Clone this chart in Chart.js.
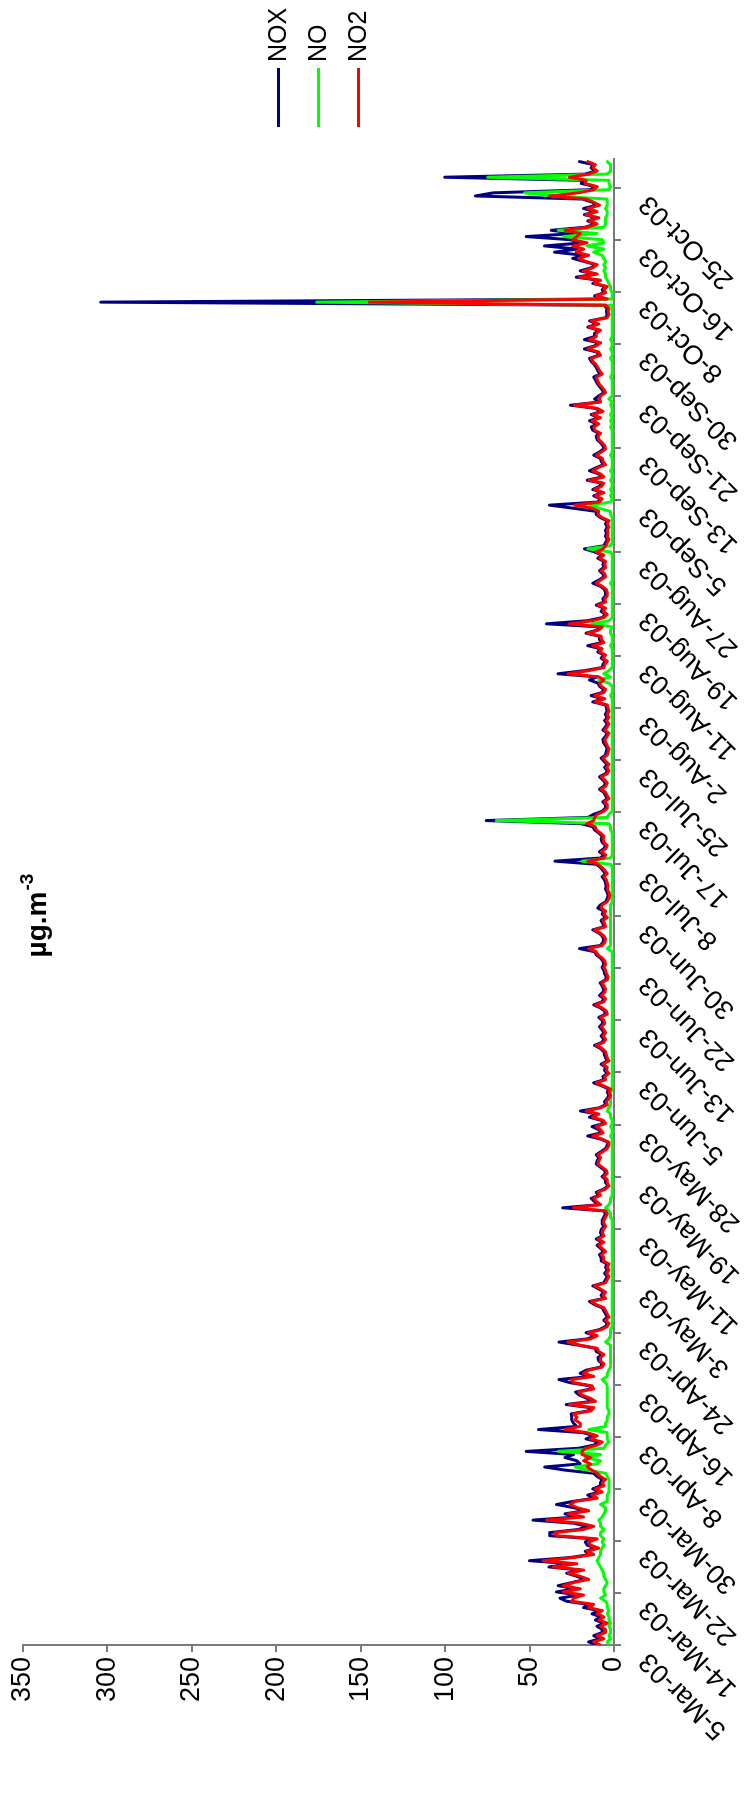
<!DOCTYPE html>
<html>
<head>
<meta charset="utf-8">
<script src="https://cdn.jsdelivr.net/npm/chart.js@4.4.1/dist/chart.umd.min.js"></script>
<style>
  html, body { margin: 0; padding: 0; background: #fff; width: 744px; height: 1796px; overflow: hidden; }
  /* the chart is laid out landscape and turned a quarter turn counter-clockwise onto the tall page */
  #frame { position: absolute; left: 0; top: 0; width: 1796px; height: 744px;
           transform-origin: 0 0; transform: translate(0, 1796px) rotate(-90deg); }
  canvas { display: block; }
</style>
</head>
<body>
<div id="frame"><canvas id="c" width="1796" height="744"></canvas></div>
<script>
// Half-daily readings (12 h apart) from 5 March 2003, in µg.m-3
const STEP_HOURS = 12;
const TICK_STEP_HOURS = 200;

const TICK_LABELS = ['5-Mar-03','14-Mar-03','22-Mar-03','30-Mar-03','8-Apr-03','16-Apr-03','24-Apr-03',
  '3-May-03','11-May-03','19-May-03','28-May-03','5-Jun-03','13-Jun-03','22-Jun-03','30-Jun-03',
  '8-Jul-03','17-Jul-03','25-Jul-03','2-Aug-03','11-Aug-03','19-Aug-03','27-Aug-03','5-Sep-03',
  '13-Sep-03','21-Sep-03','30-Sep-03','8-Oct-03','16-Oct-03','25-Oct-03'];

const NOX = [
  10,15,8,12,7,7,10,6,11,8,
  13,9,18,15,28,32,21,34,23,33,
  25,17,22,28,20,38.5,25,50,26,14,
  17,11,16,17,12,38,38,21,16,24,
  48,22,29,17,24,34,24,12,15.5,9,
  12.5,8,8,7,10,12,29,41,20,22,
  29,24,52,21,12,9,16.5,12,18.4,44.7,
  22,24,25,25,25.3,15,14,28.3,13.5,16,
  20.5,22.8,13.5,14.5,26,32.6,14,20,16.5,8,
  7,9,9.5,7,10.5,11,21,32.6,16,11,
  16.5,8.6,5,4,6,4,5,6,7,11.5,
  14.5,6,7.6,6,9,12.5,6,5,4,5.6,
  4,5,4,7.6,7.6,8.6,6,8,10,7,
  10.5,7,8,7.6,6,7,7,6,5,6,
  30.3,9,11.5,13.5,9,10.5,6,3.5,5,5,
  7,5,5.6,8,10.5,10,9,10.5,7.6,5,
  4,3.5,8,15.5,7.6,9,13,6,7.6,14.5,
  10,19.8,9,5,5.6,4,3,4,3,7,
  12,6,6.6,4,5.6,5,7.6,4,5,5.6,
  6,8,11.5,7,6,7.6,6,7,8.6,6.6,
  7,9,5,5.6,8,12,7,6,8.6,6.6,
  6,7,8.2,5,4.6,5.6,6,7,6,6.6,
  8,10.5,11.5,20.4,8,6.6,6,7,9,12.5,
  6,6.6,7.6,5,7,6,9.6,8,5,4,
  3.5,4,5,4.6,5,5.6,7,5,6.6,8,
  10.5,35,8,6,8.6,6,5,7,7.6,7,
  9,11.5,12.5,19.4,75.6,15.5,12,7,5,5,
  6.6,4,5,6,8.6,6,5,6.6,8.6,5,
  4,5.6,4,6,7.6,5,4.6,4,5,6.2,
  6.6,5,4,6.6,5,4,5.6,4,5.2,4,
  4.5,5,12.5,6.6,13.5,7,6,8.6,9.5,14.5,
  10,33.2,17.5,7,6.6,5,7.6,6,9.6,8,
  15.5,7,8.6,8.6,16.5,10,8,40,15.5,7,
  5,7.6,6,10.5,6,6.6,5,5,5.6,8,
  12.5,9,6,6.6,8.6,6,6.6,6,9.6,7,
  11.5,17.5,6,5,4,5,4.5,5,4,5,
  4,8,10.5,10.5,24,38.2,9.5,8,12,7,
  12.5,8.6,7,15.9,7,9,14.5,10.5,6,7.6,
  8,12,8.6,6,6.6,8,10,10.5,9,12.5,
  13.5,10,14.5,9,13.5,7.6,11,25.7,9,11.5,
  9,6,7,8.6,10,10.9,12,8,9.6,10.5,
  11.5,13.5,14.5,9,10,17.5,11.5,9,17.5,11.5,
  11.5,9,15.5,10,14.5,5,4,4.5,4,6,
  304,5,11.5,6,7,5,12.5,9,22.4,11,
  20,13.5,11,17.5,24.4,18,35.2,22,41.1,18,
  26,52,22,37.2,17,11,15.5,10,17.5,11,
  18,10.5,13,18.4,82,71.5,14,11,19.4,18,
  100.3,17,11,13.5,12,20.4
];

const NO = [
  3,4,2,3,2,2,3,2,3,3,
  4,3,4,4,5,8,5,6,6,5,
  4,5,6,6,7,8,9,10,9,8,
  8,7,6,7,6,8,8,6,8,8,
  9,7,6,5,5,8,4,4,4,3,
  3,3,3,3,4,5,16,23,10,8,
  17,8,33,6,5,3,4,4,4,15,
  5,5,4,4,3,3,4,4,4,4,
  4,4,4,4,5,7,4,4,3,2,
  2,2,2,2,2,2,2,5,3,2,
  2,2,1,1,1,1,1,1,1,1,
  1,1,1,1,1,1,1,1,1,1,
  1,1,1,1,1,1,1,1,1,1,
  1,1,1,1,1,1,1,2,2,3,
  5,3,2,2,1,1,1,1,1,1,
  1,1,1,1,1,1,1,1,1,1,
  1,1,1,2,1,1,2,1,1,2,
  2,4,3,2,2,2,2,2,1,1,
  1,1,1,1,1,1,1,1,1,1,
  1,1,1,1,1,1,1,1,1,1,
  1,1,1,1,1,1,1,1,1,1,
  1,1,1,1,1,1,1,1,1,1,
  1,1,1,4,2,2,2,2,2,2,
  2,2,2,2,2,2,2,2,1,1,
  1,1,1,1,1,1,1,1,1,1,
  2,19,2,1,1,1,1,1,1,1,
  1,2,2,3,69.7,4,3,1,1,1,
  1,1,1,1,1,1,1,1,1,1,
  1,1,1,1,1,1,1,1,1,1,
  1,1,1,1,1,1,1,1,1,1,
  1,1,1,1,2,1,1,1,3,9,
  2,6,3,1,1,1,1,1,1,1,
  2,1,1,1,2,2,1,13,3,1,
  1,1,1,1,1,1,1,1,1,1,
  2,1,1,1,1,1,1,1,1,1,
  2,15.5,2,1,1,1,1,1,1,1,
  1,1,2,2,9,14,2,1,2,1,
  2,1,1,2,1,1,2,1,1,1,
  1,2,1,1,1,1,1,1,1,1,
  2,1,2,1,2,1,1,2,1,3,
  1,1,1,1,1,1,2,1,1,1,
  1,1,2,1,1,2,1,1,2,1,
  1,1,1,1,1,1,1,1,1,1,
  176,1,1,1,2,2,3,4,5,5,
  6,5,6,5,6,7,12,6,16,6,
  7,30,10,33,6,5,5,5,4,4,
  5,4,4,4,36,53,3,2,3,3,
  74.7,4,2,2,2,4
];

const NO2 = [
  8,12,6,10,5,5,8,4,9,6,
  10,7,15,12,25,24,18,30,20,30,
  24,15,20,27,18,36,22,42,24,12,
  16,9,14,15,10,34,35,18,12,20,
  40,18,27,15,22,26,23,10,13,7,
  11,6,7,5,8,10,13,16,14,18,
  14,19,19,17,10,7,14,10,16,29,
  20,20,23,22,24,13.5,12,26.3,11,14,
  19,21,12,13,24,25.4,12,18,15,7,
  6,8,8,6,9,10,20,27.3,14,10,
  15,7.5,4,3,5,3,4,5,6,10.5,
  13.5,5,6.5,5,8,11.5,5,4,3,4.5,
  3,4,3,6.5,6,7.5,5,7,9,6,
  9.5,6,7,6.5,5,6,6,5,4,5,
  24,8,10.5,12,8,9.5,5,3,4,4,
  6,4,4.5,7,9.5,9,8,9.5,6.5,4,
  3,3,7,12.5,6.5,8,10.5,5,6.5,12.5,
  9,16.5,8,4,4.5,3,2,3,2,6,
  10.5,5,5.5,3,4.5,4,6.6,3,4,4.5,
  5,7,10.5,6,5,6.5,5,6,7.5,5.5,
  6,8,4,4.5,7,10.9,6,5,7.5,5.5,
  5,6,7.2,4,3.5,4.5,5,6,5,5.5,
  7,9.6,10.5,15,7,5.5,5,6,8,11.5,
  5,5.5,6.5,4,6,5,7.6,7,4,3,
  2.5,3,4,3.5,4,4.5,6,4,5.5,7,
  9.5,15.5,6,5,7.5,5,4,6,6.5,6,
  8,10.5,11,16,12,11.5,10,6,4,4,
  5.5,3,4,5,7.6,5,4,5.5,7.5,4,
  3,4.5,3,5,6.5,4,3.5,3,4,5,
  5.5,4,3,5.5,4,3,4.5,3,4.2,3,
  3.5,4,11,5.5,11.5,6,5,7.5,8.6,6,
  9,27.3,15,6,5.5,4,6.5,5,8.5,7,
  12.5,6,7.5,7.5,15.5,9,7,26.3,12.5,6,
  4,6.5,5,9.5,5,5.5,4,4,4.5,7,
  10.5,8,5,5.5,7.5,5,5.5,5,8.5,6,
  10.5,6.5,5,4,3,4,3.5,4,3,4,
  3,7,9.5,9,13,23.4,8.6,7,10.9,6,
  11.5,7.5,6,14.5,6,8,12.5,9.5,5,6.5,
  7,10.5,7.5,5,5.5,7,9,9.5,8,11.5,
  12,9,13,8,12.5,6.5,10,23.4,8,8.6,
  8,5,6,7.5,9,9.9,10.5,7,8.5,9.5,
  10.5,12.5,13.5,8,9,15.5,10.5,8,14.5,10.5,
  10.5,8,14.5,9,13.5,4,3,3.5,3,5,
  145,4,10.5,5,6,4,11.5,8,20.4,10,
  18,12.5,10,16.5,21,15,22.4,18,24.4,16,
  24.4,22,20,29,15.5,10,14.5,9,16.5,10,
  15.5,8.6,12,16.5,38,21,12,10,17,16.5,
  26.3,15,10,12.5,11,15.5
];

const SERIES_NAMES = ['NOX', 'NO', 'NO2'];
const SERIES_COLORS = ['#000080', '#00FF00', '#FF0000'];

const FONT = '"Liberation Sans", Arial, sans-serif';
const AXIS_GREY = '#7a7a7a';

const toPoints = (arr) => arr.map((v, i) => ({ x: i * STEP_HOURS, y: v }));

// legend and unit caption
const decorations = {
  id: 'decorations',
  afterDraw(chart) {
    const { ctx, chartArea } = chart;
    ctx.save();
    const cy = (chartArea.top + chartArea.bottom) / 2;
    const x0 = chartArea.right + 32;
    chart.data.datasets.forEach((ds, k) => {
      const y = cy + (k - 1) * 40;
      ctx.strokeStyle = ds.borderColor;
      ctx.lineWidth = 3;
      ctx.beginPath();
      ctx.moveTo(x0, y);
      ctx.lineTo(x0 + 59, y);
      ctx.stroke();
      ctx.fillStyle = '#000';
      ctx.font = '25px ' + FONT;
      ctx.textAlign = 'left';
      ctx.textBaseline = 'middle';
      ctx.fillText(ds.label, x0 + 65, y + 1);
    });

    // unit caption: µg.m-3 with raised exponent
    ctx.fillStyle = '#000';
    ctx.textBaseline = 'alphabetic';
    ctx.textAlign = 'left';
    const main = 'µg.m';
    const sup = '-3';
    ctx.font = 'bold 28px ' + FONT;
    const wMain = ctx.measureText(main).width;
    ctx.font = 'bold 19px ' + FONT;
    const wSup = ctx.measureText(sup).width;
    const cx = 880;
    const baseY = 46;
    const left = cx - (wMain + wSup) / 2;
    ctx.font = 'bold 28px ' + FONT;
    ctx.fillText(main, left, baseY);
    ctx.font = 'bold 19px ' + FONT;
    ctx.fillText(sup, left + wMain + 1, baseY - 13);
    ctx.restore();
  }
};

new Chart(document.getElementById('c'), {
  type: 'line',
  data: {
    datasets: [
      { label: SERIES_NAMES[0], data: toPoints(NOX), borderColor: SERIES_COLORS[0], order: 3 },
      { label: SERIES_NAMES[1], data: toPoints(NO), borderColor: SERIES_COLORS[1], order: 2 },
      { label: SERIES_NAMES[2], data: toPoints(NO2), borderColor: SERIES_COLORS[2], order: 1 }
    ]
  },
  options: {
    responsive: false,
    animation: false,
    devicePixelRatio: 1,
    datasets: {
      line: {
        borderWidth: 3,
        pointRadius: 0,
        tension: 0,
        borderJoinStyle: 'round',
        borderCapStyle: 'round',
        fill: false
      }
    },
    layout: { padding: { top: 23, right: 159, left: 0, bottom: 0 } },
    plugins: {
      legend: { display: false },
      tooltip: { enabled: false }
    },
    scales: {
      x: {
        type: 'linear',
        min: 0,
        max: 5710,
        afterBuildTicks: (scale) => {
          scale.ticks = TICK_LABELS.map((_, k) => ({ value: k * TICK_STEP_HOURS }));
        },
        afterFit: (scale) => { scale.height = 130; },
        ticks: {
          autoSkip: false,
          maxRotation: 45,
          minRotation: 45,
          padding: 12,
          labelOffset: -12,
          color: '#000',
          font: { family: FONT, size: 27 },
          callback: (value) => TICK_LABELS[Math.round(value / TICK_STEP_HOURS)] ?? ''
        },
        grid: { display: true, drawOnChartArea: false, drawTicks: true, tickLength: 7, tickColor: AXIS_GREY, lineWidth: 2 },
        border: { display: true, color: AXIS_GREY, width: 2 }
      },
      y: {
        min: 0,
        max: 350,
        afterFit: (scale) => { scale.width = 151; },
        ticks: {
          stepSize: 50,
          padding: 5,
          color: '#000',
          font: { family: FONT, size: 27 }
        },
        grid: { display: true, drawOnChartArea: false, drawTicks: true, tickLength: 7, tickColor: AXIS_GREY, lineWidth: 2 },
        border: { display: true, color: AXIS_GREY, width: 2 }
      }
    }
  },
  plugins: [decorations]
});
</script>
</body>
</html>
